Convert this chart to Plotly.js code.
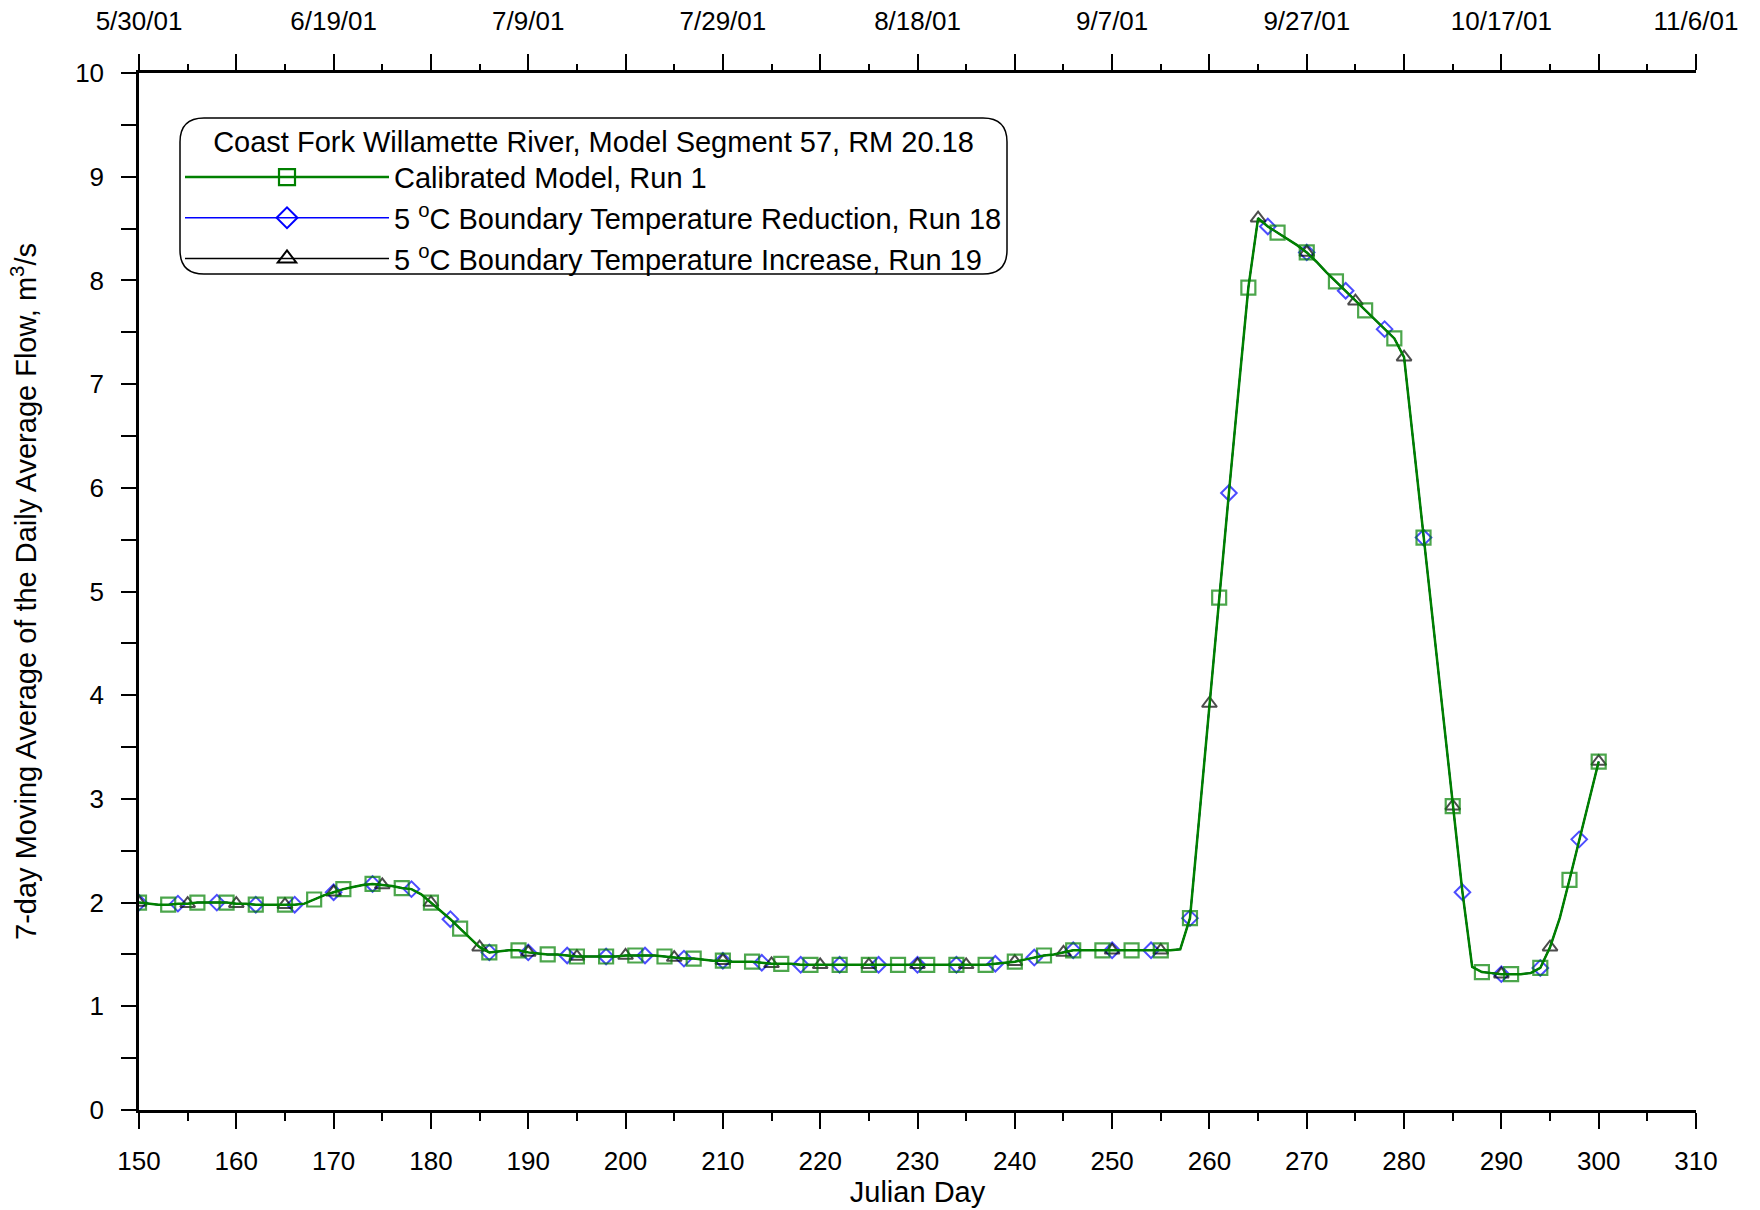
<!DOCTYPE html>
<html>
<head>
<meta charset="utf-8">
<script src="https://cdn.plot.ly/plotly-3.0.1.min.js"></script>
<style>html,body{margin:0;padding:0;background:#fff;}#chart{width:1760px;height:1210px;}</style>
</head>
<body>
<div id="chart"></div>
<script>
// Julian days (daily values, day 150 .. 300)
const julianDays = [];
for (let d = 150; d <= 300; d++) julianDays.push(d);

// 7-day moving average of daily average flow (m3/s)
const flowRun1 = [
  2.00,1.99,1.98,1.98,1.99,1.99,2.00,2.00,2.00,2.00,
  1.99,1.99,1.98,1.98,1.98,1.98,1.98,1.99,2.03,2.07,
  2.10,2.13,2.15,2.17,2.18,2.17,2.16,2.14,2.13,2.08,
  2.00,1.92,1.84,1.75,1.66,1.57,1.52,1.53,1.54,1.54,
  1.52,1.51,1.50,1.50,1.49,1.48,1.48,1.48,1.48,1.48,
  1.49,1.49,1.49,1.49,1.48,1.47,1.46,1.46,1.45,1.44,
  1.44,1.43,1.43,1.43,1.42,1.41,1.41,1.41,1.40,1.40,
  1.40,1.40,1.40,1.40,1.40,1.40,1.40,1.40,1.40,1.40,
  1.40,1.40,1.40,1.40,1.40,1.40,1.40,1.40,1.41,1.42,
  1.43,1.45,1.47,1.49,1.50,1.52,1.54,1.54,1.54,1.54,
  1.54,1.54,1.54,1.54,1.54,1.54,1.54,1.55,1.85,2.87,
  3.92,4.94,5.95,6.95,7.93,8.60,8.52,8.46,8.40,8.34,
  8.27,8.18,8.08,7.99,7.90,7.80,7.71,7.62,7.53,7.44,
  7.26,6.40,5.52,4.66,3.83,2.93,2.10,1.38,1.33,1.32,
  1.31,1.31,1.31,1.32,1.37,1.57,1.85,2.22,2.61,2.98,
  3.36
];
const flowRun18 = [
  2.00,1.99,1.98,1.98,1.99,1.99,2.00,2.00,2.00,2.00,
  1.99,1.99,1.98,1.98,1.98,1.98,1.98,1.99,2.03,2.07,
  2.10,2.13,2.15,2.17,2.18,2.17,2.16,2.14,2.13,2.08,
  2.00,1.92,1.84,1.75,1.66,1.57,1.52,1.53,1.54,1.54,
  1.52,1.51,1.50,1.50,1.49,1.48,1.48,1.48,1.48,1.48,
  1.49,1.49,1.49,1.49,1.48,1.47,1.46,1.46,1.45,1.44,
  1.44,1.43,1.43,1.43,1.42,1.41,1.41,1.41,1.40,1.40,
  1.40,1.40,1.40,1.40,1.40,1.40,1.40,1.40,1.40,1.40,
  1.40,1.40,1.40,1.40,1.40,1.40,1.40,1.40,1.41,1.42,
  1.43,1.45,1.47,1.49,1.50,1.52,1.54,1.54,1.54,1.54,
  1.54,1.54,1.54,1.54,1.54,1.54,1.54,1.55,1.85,2.87,
  3.92,4.94,5.95,6.95,7.93,8.60,8.52,8.46,8.40,8.34,
  8.27,8.18,8.08,7.99,7.90,7.80,7.71,7.62,7.53,7.44,
  7.26,6.40,5.52,4.66,3.83,2.93,2.10,1.38,1.33,1.32,
  1.31,1.31,1.31,1.32,1.37,1.57,1.85,2.22,2.61,2.98,
  3.36
];
const flowRun19 = [
  2.00,1.99,1.98,1.98,1.99,1.99,2.00,2.00,2.00,2.00,
  1.99,1.99,1.98,1.98,1.98,1.98,1.98,1.99,2.03,2.07,
  2.10,2.13,2.15,2.17,2.18,2.17,2.16,2.14,2.13,2.08,
  2.00,1.92,1.84,1.75,1.66,1.57,1.52,1.53,1.54,1.54,
  1.52,1.51,1.50,1.50,1.49,1.48,1.48,1.48,1.48,1.48,
  1.49,1.49,1.49,1.49,1.48,1.47,1.46,1.46,1.45,1.44,
  1.44,1.43,1.43,1.43,1.42,1.41,1.41,1.41,1.40,1.40,
  1.40,1.40,1.40,1.40,1.40,1.40,1.40,1.40,1.40,1.40,
  1.40,1.40,1.40,1.40,1.40,1.40,1.40,1.40,1.41,1.42,
  1.43,1.45,1.47,1.49,1.50,1.52,1.54,1.54,1.54,1.54,
  1.54,1.54,1.54,1.54,1.54,1.54,1.54,1.55,1.85,2.87,
  3.92,4.94,5.95,6.95,7.93,8.60,8.52,8.46,8.40,8.34,
  8.27,8.18,8.08,7.99,7.90,7.80,7.71,7.62,7.53,7.44,
  7.26,6.40,5.52,4.66,3.83,2.93,2.10,1.38,1.33,1.32,
  1.31,1.31,1.31,1.32,1.37,1.57,1.85,2.22,2.61,2.98,
  3.36
];

// Series names and legend title
const seriesNames = [
  'Calibrated Model, Run 1',
  '5 <sup>o</sup>C Boundary Temperature Reduction, Run 18',
  '5 <sup>o</sup>C Boundary Temperature Increase, Run 19'
];
const legendTitle = 'Coast Fork Willamette River, Model Segment 57, RM 20.18';

// Top axis (calendar dates) tick labels
const dateTickDays = [150,170,190,210,230,250,270,290,310];
const dateTickLabels = ['5/30/01','6/19/01','7/9/01','7/29/01','8/18/01','9/7/01','9/27/01','10/17/01','11/6/01'];

// Marker every N days for each series (style only)
function markerSizes(every, size) {
  return julianDays.map(d => ((d - 150) % every === 0) ? size : 0);
}

const FONT = 'Liberation Sans, Arial, sans-serif';
const GREEN = '#008000', BLUE = '#0000ff', BLACK = '#000000';

const styles = [
  {color: GREEN, width: 2.5, symbol: 'square-open', every: 3, size: 14, lw: 2.2},
  {color: BLUE, width: 1.5, symbol: 'diamond-open', every: 4, size: 12, lw: 2},
  {color: BLACK, width: 1.5, symbol: 'triangle-up-open', every: 5, size: 13, lw: 2}
];

function dataTrace(y, k) {
  const s = styles[k];
  return {
    x: julianDays, y: y, name: seriesNames[k], type: 'scatter', mode: 'lines+markers',
    line: {color: s.color, width: s.width},
    marker: {symbol: s.symbol, size: markerSizes(s.every, s.size), color: s.color, line: {width: s.lw, color: s.color}},
    showlegend: false, hoverinfo: 'x+y'
  };
}
function legendTrace(k) {
  const s = styles[k];
  return {
    x: [null], y: [null], name: seriesNames[k], type: 'scatter', mode: 'lines+markers',
    line: {color: s.color, width: s.width},
    marker: {symbol: s.symbol, size: 16, color: s.color, line: {width: s.lw, color: s.color}},
    showlegend: true, legendrank: k + 1, hoverinfo: 'skip'
  };
}

const traces = [
  dataTrace(flowRun18, 1),
  dataTrace(flowRun19, 2),
  dataTrace(flowRun1, 0),
  legendTrace(0), legendTrace(1), legendTrace(2),
  // carriers so the top (date) axes get drawn; fully transparent
  {x: julianDays, y: flowRun1, xaxis: 'x2', mode: 'lines', line: {width: 0}, opacity: 0, showlegend: false, hoverinfo: 'skip'},
  {x: julianDays, y: flowRun1, xaxis: 'x3', mode: 'lines', line: {width: 0}, opacity: 0, showlegend: false, hoverinfo: 'skip'}
];

// legend frame (rounded rectangle) in paper coords
const plotW = 1760 - 139 - 64, plotH = 1210 - 73 - 100;
const bx0 = (180 - 139) / plotW, bx1 = (1007 - 139) / plotW;
const by1 = (1110 - 118) / plotH, by0 = (1110 - 274) / plotH;
const rx = 24 / plotW, ry = 24 / plotH;
const framePath =
  `M${bx0 + rx},${by1} L${bx1 - rx},${by1} Q${bx1},${by1} ${bx1},${by1 - ry} ` +
  `L${bx1},${by0 + ry} Q${bx1},${by0} ${bx1 - rx},${by0} ` +
  `L${bx0 + rx},${by0} Q${bx0},${by0} ${bx0},${by0 + ry} ` +
  `L${bx0},${by1 - ry} Q${bx0},${by1} ${bx0 + rx},${by1} Z`;

const axisBase = {
  range: [150, 310], showgrid: false, zeroline: false, tickcolor: '#000', tickwidth: 2
};

const layout = {
  width: 1760, height: 1210,
  margin: {l: 139, r: 64, t: 73, b: 100},
  paper_bgcolor: '#ffffff', plot_bgcolor: '#ffffff',
  font: {family: FONT, color: '#000000', size: 26},
  showlegend: true,
  hovermode: 'closest',
  xaxis: Object.assign({}, axisBase, {
    tick0: 150, dtick: 10, tickmode: 'linear',
    ticks: 'outside', ticklen: 16,
    minor: {tick0: 150, dtick: 5, ticks: 'outside', ticklen: 8, tickwidth: 2, tickcolor: '#000'},
    showline: true, linewidth: 2.5, linecolor: '#000',
    tickfont: {size: 26}, ticklabelstandoff: 10,
    title: {text: 'Julian Day', font: {size: 29}, standoff: 0}
  }),
  xaxis2: Object.assign({}, axisBase, {
    overlaying: 'x', side: 'top', anchor: 'y',
    tickmode: 'array', tickvals: dateTickDays, ticktext: dateTickLabels,
    ticks: 'outside', ticklen: 16,
    minor: {tickmode: 'linear', tick0: 150, dtick: 10, ticks: 'outside', ticklen: 16, tickwidth: 2, tickcolor: '#000'},
    showline: true, linewidth: 2.5, linecolor: '#000',
    tickfont: {size: 26}, ticklabelstandoff: 14
  }),
  xaxis3: Object.assign({}, axisBase, {
    overlaying: 'x', side: 'top', anchor: 'y',
    tick0: 155, dtick: 10, tickmode: 'linear',
    ticks: 'outside', ticklen: 8, showticklabels: false, showline: false
  }),
  yaxis: {
    range: [0, 10], tick0: 0, dtick: 1, tickmode: 'linear',
    ticks: 'outside', ticklen: 15, tickwidth: 2, tickcolor: '#000',
    minor: {tick0: 0, dtick: 0.5, ticks: 'outside', ticklen: 15, tickwidth: 2, tickcolor: '#000'},
    showline: true, linewidth: 2.5, linecolor: '#000',
    showgrid: false, zeroline: false,
    tickfont: {size: 26}, ticklabelstandoff: 12,
    title: {text: '7-day Moving Average of the Daily Average Flow, m<sup>3</sup>/s', font: {size: 29}, standoff: 30}
  },
  legend: {
    x: bx0, y: by1 + 4 / plotH, xanchor: 'left', yanchor: 'top',
    bgcolor: 'rgba(0,0,0,0)', borderwidth: 0,
    font: {size: 29, family: FONT},
    title: {text: legendTitle, side: 'top center', font: {size: 29, family: FONT}},
    itemwidth: 204, itemclick: false, itemdoubleclick: false, tracegroupgap: 0
  },
  shapes: [{
    type: 'path', xref: 'paper', yref: 'paper', path: framePath,
    line: {color: '#000', width: 1.5}, fillcolor: 'rgba(0,0,0,0)', layer: 'below'
  }]
};

Plotly.newPlot('chart', traces, layout, {displayModeBar: false, responsive: false});
</script>
</body>
</html>
